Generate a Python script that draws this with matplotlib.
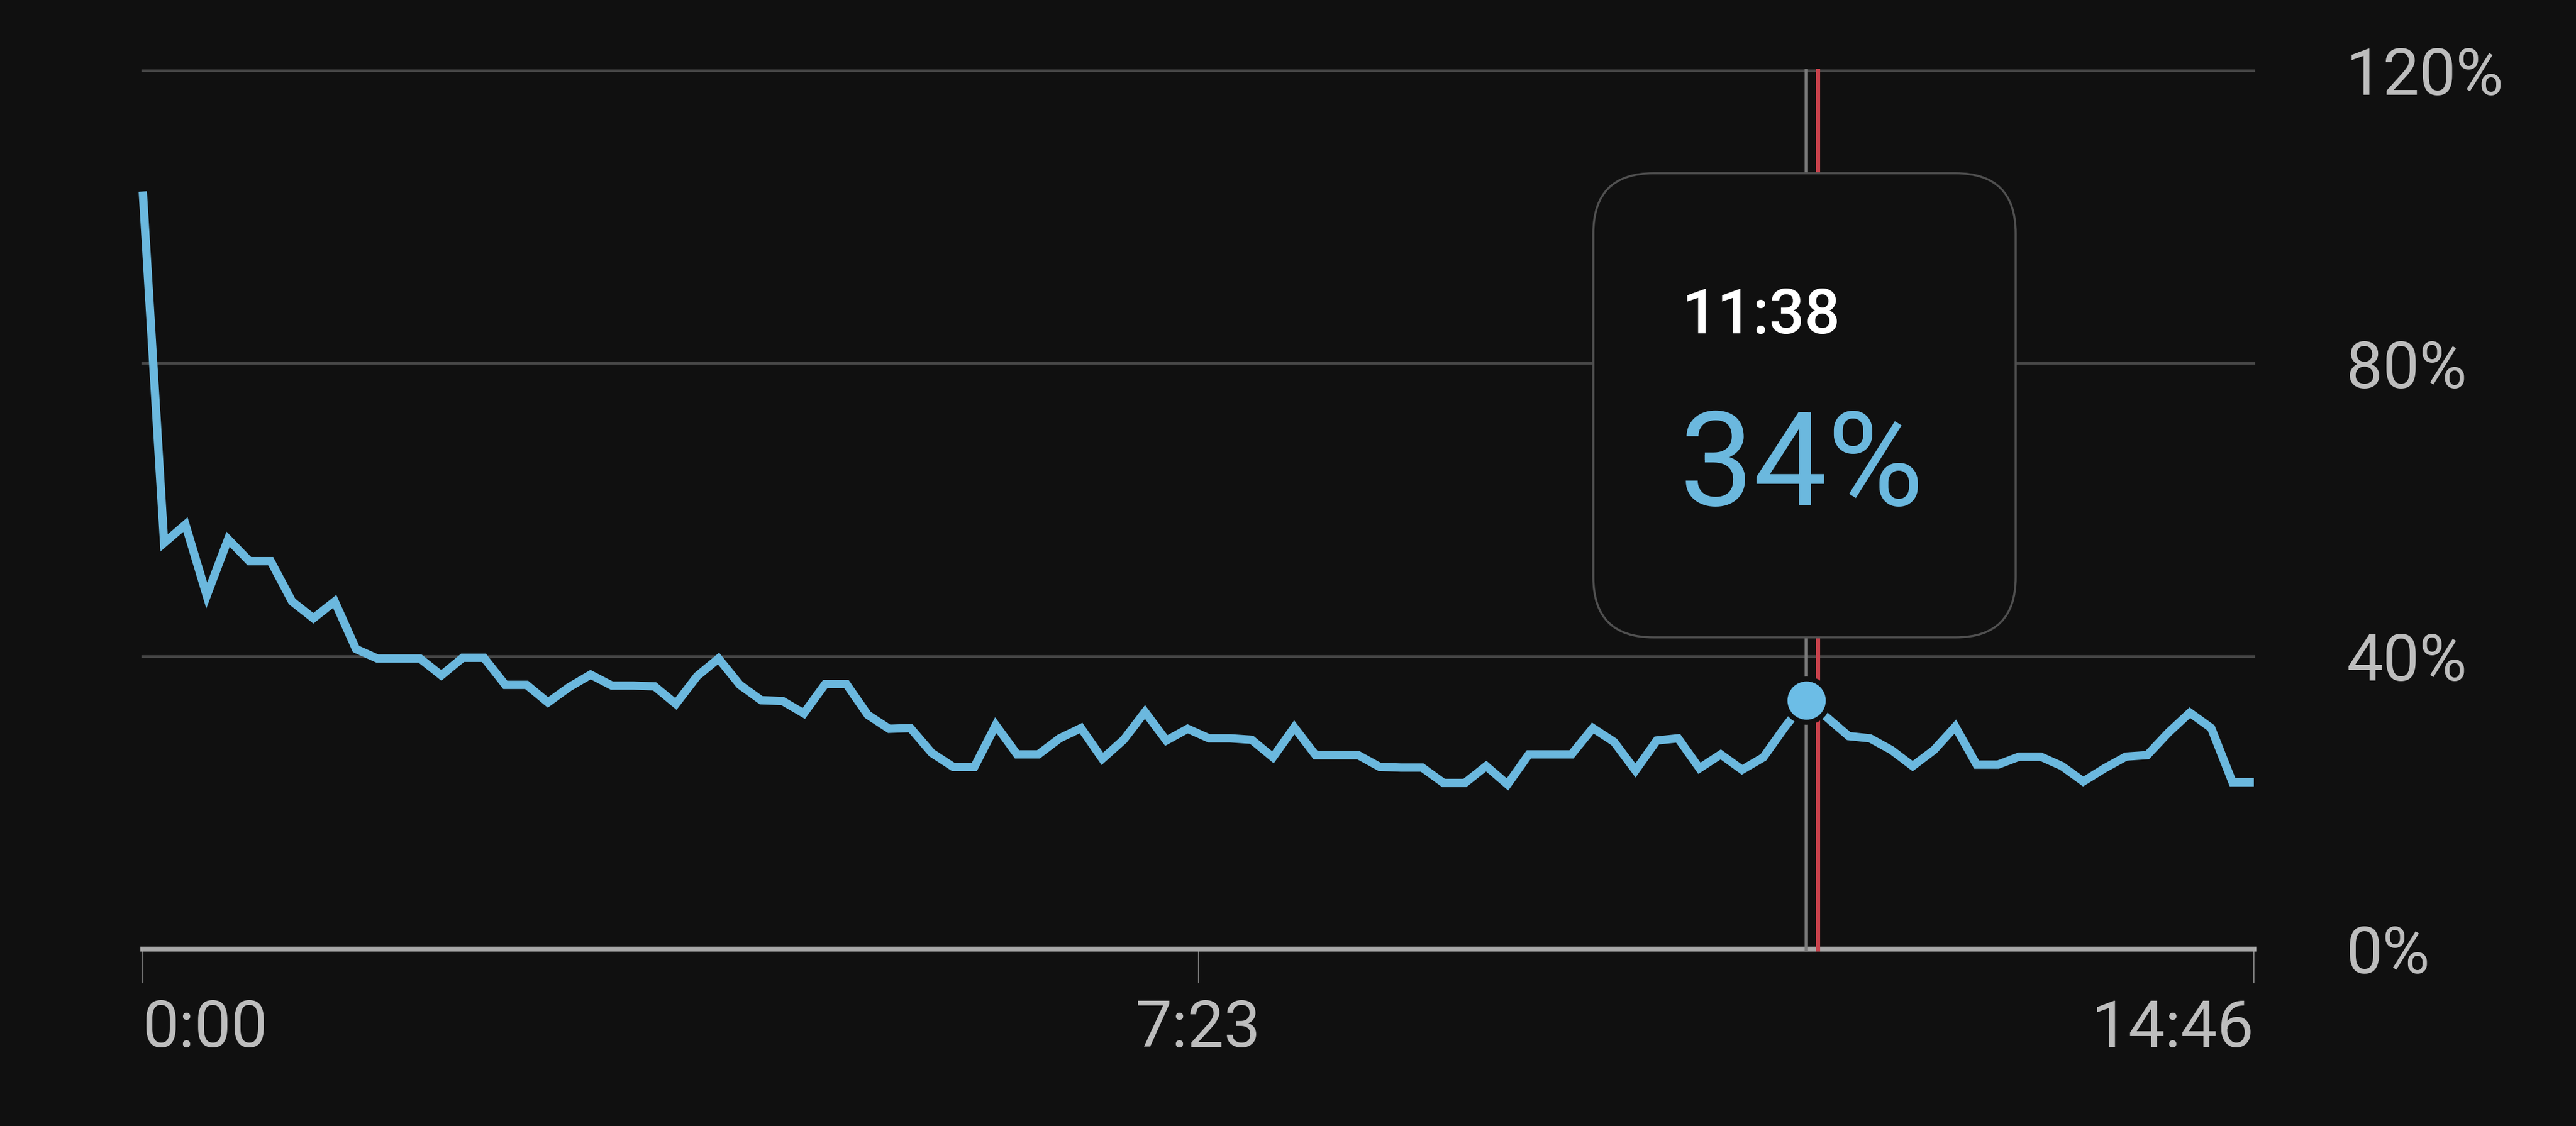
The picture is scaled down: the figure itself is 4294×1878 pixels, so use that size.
import numpy as np
import matplotlib.pyplot as plt
from matplotlib.patches import FancyBboxPatch
from matplotlib.transforms import IdentityTransform

plt.rcParams['font.family'] = ['Roboto', 'DejaVu Sans']

# cpu usage samples (%), evenly spaced over the session
cpu_pct = [
    103.5, 55.5, 58.0, 48.3, 56.0, 53.0, 53.0, 47.5, 45.2, 47.5,
    41.0, 39.7, 39.7, 39.7, 37.4, 39.8, 39.8, 36.1, 36.1, 33.7,
    35.8, 37.5, 36.0, 36.0, 35.9, 33.5, 37.3, 39.7, 36.1, 34.0,
    33.9, 32.2, 36.2, 36.2, 32.0, 30.1, 30.2, 26.8, 24.9, 24.9,
    30.6, 26.6, 26.6, 28.8, 30.2, 26.0, 28.6, 32.4, 28.5, 30.1,
    28.8, 28.8, 28.6, 26.2, 30.3, 26.5, 26.5, 26.5, 24.9, 24.8,
    24.8, 22.7, 22.7, 25.0, 22.5, 26.6, 26.6, 26.6, 30.2, 28.3,
    24.4, 28.5, 28.8, 24.7, 26.6, 24.5, 26.2, 30.3, 34.0, 31.6,
    29.1, 28.8, 27.2, 25.0, 27.2, 30.4, 25.2, 25.2, 26.3, 26.3,
    25.0, 22.9, 24.7, 26.3, 26.5, 29.6, 32.3, 30.2, 22.8, 22.8,
]
total_sec = 886          # 14:46
hover_idx = 78
hover_time = "11:38"
hover_value = "34%"
cursor_sec = 703

x_tick_sec = [0, 443, 886]
x_tick_labels = ["0:00", "7:23", "14:46"]
y_ticks = [0, 40, 80, 120]
y_tick_labels = ["0%", "40%", "80%", "120%"]

BG = '#101010'
BLUE = '#6bb8de'
LABEL = '#bdbdbd'

W, H = 4294, 1878
fig = plt.figure(figsize=(W / 100, H / 100), dpi=100, facecolor=BG)
ax = fig.add_axes([238 / W, 295 / H, (3757 - 238) / W, (1583 - 118) / H])
ax.set_facecolor(BG)

times = np.linspace(0, total_sec, len(cpu_pct))
ax.set_xlim(0, total_sec)
ax.set_ylim(0, 120)
for s in ax.spines.values():
    s.set_visible(False)

# grid + base line
for v in y_ticks[1:]:
    ax.axhline(v, color='#474747', lw=3.2, zorder=1, clip_on=False)
ax.axhline(0, color='#a8a8a8', lw=6, zorder=2, clip_on=False)

# hover cursor lines
ax.axvline(times[hover_idx], color='#7a7a7a', lw=4, zorder=3, clip_on=False)
ax.axvline(cursor_sec, color='#c9424c', lw=5, zorder=3, clip_on=False)

ax.plot(times, cpu_pct, color=BLUE, lw=10, solid_joinstyle='miter',
        solid_capstyle='butt', zorder=4, clip_on=False)
ax.plot(times[hover_idx], cpu_pct[hover_idx], 'o', ms=52, color='#6cbde6',
        mec=BG, mew=6, zorder=5, clip_on=False)

# axes labels
ax.set_xticks(x_tick_sec, x_tick_labels)
ax.tick_params(axis='x', length=41, width=1.5, color='#777777',
               labelcolor=LABEL, labelsize=78, pad=18)
xl = ax.get_xticklabels()
xl[0].set_ha('left')
xl[-1].set_ha('right')

ax.yaxis.tick_right()
ax.set_yticks(y_ticks, y_tick_labels)
ax.tick_params(axis='y', length=0, pad=111, labelcolor=LABEL, labelsize=78)

# tooltip
box = FancyBboxPatch((2656, H - 1063), 704, 774,
                     boxstyle="round,pad=0,rounding_size=100",
                     transform=IdentityTransform(), facecolor=BG,
                     edgecolor='#505050', lw=2.5, zorder=10)
fig.add_artist(box)
fig.text(2804 / W, (H - 556) / H, hover_time, color='white', fontsize=75,
         fontweight='medium', va='baseline', ha='left', zorder=11)
fig.text(2800 / W, (H - 843) / H, hover_value, color=BLUE, fontsize=158,
         va='baseline', ha='left', zorder=11)

fig.savefig('out.png', dpi=100, facecolor=BG)
